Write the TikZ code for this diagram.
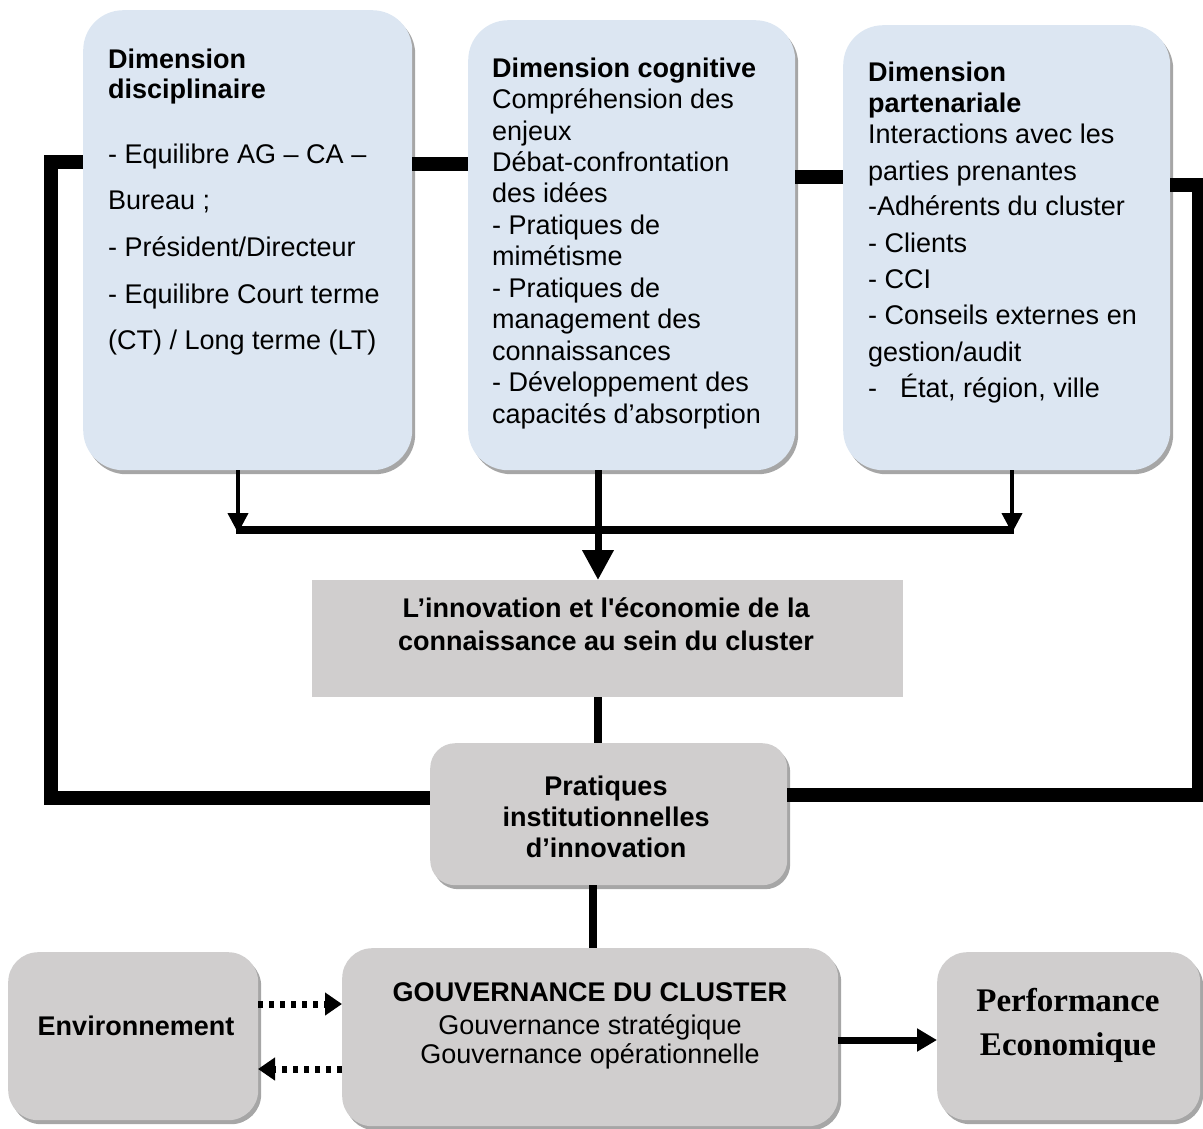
\documentclass[tikz,border=0pt]{standalone}
\usepackage{fontspec}
\setmainfont{Liberation Sans}
\newfontfamily\perffont{Liberation Serif}
\usetikzlibrary{shadows,arrows.meta}
\definecolor{boxblue}{RGB}{220,230,242}
\definecolor{boxgray}{RGB}{208,206,206}
\tikzset{
  shd/.style={drop shadow={shadow xshift=3pt,shadow yshift=-4pt,fill=black,opacity=0.35}},
  bluebox/.style={fill=boxblue, rounded corners=40pt, anchor=north west, inner sep=0pt, shd},
  graybox/.style={fill=boxgray, rounded corners=#1, anchor=north west, inner sep=0pt, shd},
  plainbox/.style={fill=boxgray, anchor=north west, inner sep=0pt},
  ln/.style={anchor=base west, inner sep=0pt, font=\fontsize{27}{31}\selectfont},
  cln/.style={anchor=base, inner sep=0pt, font=\fontsize{27}{31}\selectfont},
  thickline/.style={line width=14pt, line join=miter},
  barline/.style={line width=8pt},
  smallarrow/.style={line width=4pt, -{Triangle[length=20pt,width=20pt]}},
  bigarrow/.style={line width=7pt, -{Triangle[length=30pt,width=30pt]}},
  stem/.style={line width=8pt},
  dotarrow/.style={line width=7pt, dash pattern=on 5pt off 6pt, -{Triangle[length=17pt,width=22pt]}},
  solidarrow/.style={line width=7pt, -{Triangle[length=20pt,width=22pt]}},
}
\begin{document}
\begin{tikzpicture}[x=1pt,y=-1pt]
\useasboundingbox (0,0) rectangle (1203,1128);

% top boxes
\node[bluebox, minimum width=329pt, minimum height=460pt] (b1) at (83,10) {};
\node[bluebox, minimum width=327pt, minimum height=450pt] (b2) at (468,20) {};
\node[bluebox, minimum width=327pt, minimum height=445pt] (b3) at (843,25) {};

% box 1 text
\node[ln] (b1t1) at (108,68) {\bfseries Dimension};
\node[ln] (b1t2) at (108,98) {\bfseries disciplinaire};
\node[ln] (b1t3) at (108,163) {- Equilibre AG – CA –};
\node[ln] (b1t4) at (108,209) {Bureau ;};
\node[ln] (b1t5) at (108,256) {- Président/Directeur};
\node[ln] (b1t6) at (108,303) {- Equilibre Court terme};
\node[ln] (b1t7) at (108,349) {(CT) / Long terme (LT)};

% box 2 text
\node[ln] (b2t1) at (492,77) {\bfseries Dimension cognitive};
\node[ln] (b2t2) at (492,108.5) {Compréhension des};
\node[ln] (b2t3) at (492,140) {enjeux};
\node[ln] (b2t4) at (492,171.3) {Débat-confrontation};
\node[ln] (b2t5) at (492,202.8) {des idées};
\node[ln] (b2t6) at (492,234.2) {- Pratiques de};
\node[ln] (b2t7) at (492,265.7) {mimétisme};
\node[ln] (b2t8) at (492,297.1) {- Pratiques de};
\node[ln] (b2t9) at (492,328.6) {management des};
\node[ln] (b2t10) at (492,360) {connaissances};
\node[ln] (b2t11) at (492,391.5) {- Développement des};
\node[ln] (b2t12) at (492,423) {capacités d’absorption};

% box 3 text
\node[ln] (b3t1) at (868,81) {\bfseries Dimension};
\node[ln] (b3t2) at (868,112) {\bfseries partenariale};
\node[ln] (b3t3) at (868,143) {Interactions avec les};
\node[ln] (b3t4) at (868,180) {parties prenantes};
\node[ln] (b3t5) at (868,215) {-Adhérents du cluster};
\node[ln] (b3t6) at (868,252) {- Clients};
\node[ln] (b3t7) at (868,288) {- CCI};
\node[ln] (b3t8) at (868,324) {- Conseils externes en};
\node[ln] (b3t9) at (868,361) {gestion/audit};
\node[ln] (b3t10) at (868,397) {-};
\node[ln] (b3t11) at (900,397) {État, région, ville};

% middle boxes
\node[plainbox, minimum width=591pt, minimum height=117pt] (inn) at (312,580) {};
\node[cln] (in1) at (606,617) {\bfseries L’innovation et l\textquotesingle économie de la};
\node[cln] (in2) at (606,650) {\bfseries connaissance au sein du cluster};

\node[graybox=25pt, minimum width=357pt, minimum height=142pt] (pr) at (430,743) {};
\node[cln] (pr1) at (606,795) {\bfseries Pratiques};
\node[cln] (pr2) at (606,826) {\bfseries institutionnelles};
\node[cln] (pr3) at (606,857) {\bfseries d’innovation};

% bottom boxes
\node[graybox=30pt, minimum width=250pt, minimum height=168pt] (env) at (8,952) {};
\node[cln] (envt) at (136,1035) {\bfseries Environnement};

\node[graybox=30pt, minimum width=496pt, minimum height=178pt] (gv) at (342,948) {};
\node[cln] (gv1) at (590,1001) {\bfseries GOUVERNANCE DU CLUSTER};
\node[cln] (gv2) at (590,1034) {Gouvernance stratégique};
\node[cln] (gv3) at (590,1063) {Gouvernance opérationnelle};

\node[graybox=30pt, minimum width=263pt, minimum height=168pt] (pf) at (937,952) {};
\node[cln, font=\perffont\bfseries\fontsize{33}{40}\selectfont] (pf1) at (1068,1011) {Performance};
\node[cln, font=\perffont\bfseries\fontsize{33}{40}\selectfont] (pf2) at (1068,1055) {Economique};

% thick side connectors
\coordinate (L1) at (51,162);
\coordinate (L2) at (51,798);
\coordinate (R1) at (1199,185);
\coordinate (R2) at (1199,795);
\draw[thickline] (b1.west |- L1) -- (L1) -- (L2) -- (pr.west |- L2);
\draw[thickline] (b1.east |- 0,164) -- (b2.west |- 0,164);
\draw[thickline] (b2.east |- 0,177) -- (b3.west |- 0,177);
\draw[thickline] (b3.east |- R1) -- (R1) -- (R2) -- (pr.east |- R2);

% merge arrows
\coordinate (jl) at (236,530);
\coordinate (jr) at (1014,530);
\coordinate (xc) at (598,0);
\draw[barline] (jl) -- (jr);
\draw[smallarrow] (b1.south -| 238,0) -- (238,533);
\draw[smallarrow] (b3.south -| 1012,0) -- (1012,533);
\draw[bigarrow] (b2.south -| xc) -- (inn.north -| xc);

% vertical stems
\draw[stem] (inn.south -| 598,0) -- (pr.north -| 598,0);
\draw[stem] (pr.south -| 593,0) -- (gv.north -| 593,0);

% bottom arrows
\draw[dotarrow] (env.east |- 0,1004) -- (gv.west |- 0,1004);
\draw[dotarrow] (gv.west |- 0,1069) -- (258,1069);
\draw[solidarrow] (gv.east |- 0,1040) -- (pf.west |- 0,1040);
\end{tikzpicture}
\end{document}
